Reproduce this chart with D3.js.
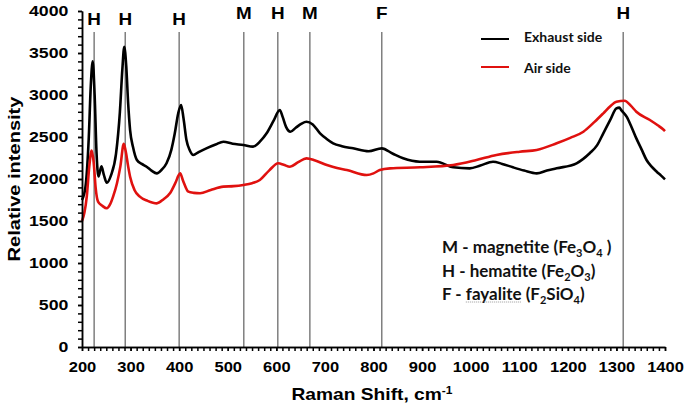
<!DOCTYPE html>
<meta charset="utf-8">
<style>
body { margin: 0; background: #fff; }
.axis path, .axis line { stroke: #000; stroke-width: 1.5px; }
.axis text { font-family: "Liberation Sans", Arial, sans-serif; font-weight: bold; fill: #000; }
.marker { stroke: #7f7f7f; stroke-width: 1.5px; }
.lbl { font-family: "Liberation Sans", Arial, sans-serif; font-weight: bold; fill: #000; }
.note { font-family: Lato, "Open Sans", sans-serif; fill: #111; }
</style>
<svg width="685" height="405"></svg>
<script src="https://d3js.org/d3.v7.min.js"></script>
<script>

// spectra (Raman shift in cm-1, intensity)
var exhaustShift = [200, 207, 214, 218, 222, 226, 230, 234, 240, 245, 251, 260, 270, 278, 283, 287, 291, 295, 299,
  305, 313, 323, 333, 343, 354, 364, 374, 384, 391, 398, 404, 409, 415, 422, 429, 440, 456, 475, 491, 510, 532,
  552, 567, 580, 595, 607, 613, 620, 629, 640, 652, 662, 675, 690, 703, 717, 735, 758, 790, 817, 840, 861, 895,
  930, 964, 998, 1020, 1046, 1065, 1087, 1110, 1136, 1157, 1177, 1218, 1245, 1260, 1273, 1287, 1300, 1306, 1310,
  1321, 1331, 1341, 1352, 1362, 1372, 1383, 1392, 1400];
var exhaustIntensity = [1750, 1900, 2500, 3100, 3400, 3000, 2300, 2030, 2150, 2050, 1956, 2050, 2300, 2800, 3300, 3575, 3350, 2900, 2583,
  2380, 2226, 2180, 2146, 2100, 2067, 2110, 2187, 2350, 2544, 2780, 2881, 2720, 2464, 2340, 2286, 2320, 2365, 2410, 2444, 2420, 2405,
  2385, 2450, 2544, 2700, 2821, 2740, 2620, 2563, 2610, 2660, 2682, 2650, 2544, 2480, 2425, 2390, 2365, 2330, 2365, 2300, 2246, 2206,
  2206, 2139, 2127, 2160, 2206, 2180, 2139, 2100, 2067, 2100, 2127, 2187, 2306, 2400, 2544, 2700, 2841, 2850, 2820,
  2742, 2620, 2484, 2350, 2226, 2150, 2087, 2040, 1996];

var airShift = [200, 205, 210, 215, 220, 224, 228, 233, 242, 251, 258, 264, 272, 279, 286, 290, 295, 299, 308,
  319, 335, 354, 368, 381, 392, 402, 408, 419, 430, 443, 465, 491, 512, 532, 550, 566, 585, 604, 615, 628, 645,
  662, 680, 704, 725, 745, 786, 800, 813, 834, 896, 964, 1012, 1053, 1101, 1136, 1177, 1205, 1232, 1255, 1273,
  1288, 1300, 1317, 1330, 1341, 1369, 1385, 1396, 1400];
var airIntensity = [1500, 1600, 1800, 2150, 2340, 2200, 1900, 1730, 1680, 1651, 1700, 1790, 1950, 2150, 2420, 2330, 2150, 2027, 1870,
  1790, 1740, 1710, 1760, 1830, 1950, 2067, 1980, 1849, 1835, 1830, 1870, 1909, 1915, 1929, 1950, 1988, 2100, 2187, 2170, 2146, 2200,
  2246, 2220, 2167, 2130, 2107, 2048, 2067, 2107, 2127, 2139, 2167, 2226, 2286, 2325, 2345, 2425, 2490, 2563, 2680, 2782,
  2870, 2920, 2932, 2870, 2801, 2702, 2640, 2592, 2570];

// band assignments
var peakShift = [225, 289, 400, 533, 603, 669, 817, 1314];
var peakLabel = ["H", "H", "H", "M", "H", "M", "F", "H"];

var xTicks = d3.range(200, 1401, 100);
var yTicks = d3.range(0, 4001, 500);

var series = [
  {name: "Exhaust side", color: "#000", shift: exhaustShift, value: exhaustIntensity},
  {name: "Air side", color: "#e0110f", shift: airShift, value: airIntensity}
];

var svg = d3.select("svg"),
    margin = {top: 11, right: 20, bottom: 58, left: 82},
    width = 665 - margin.left,
    height = 347 - margin.top;

var x = d3.scaleLinear().domain([200, 1400]).range([0, width]),
    y = d3.scaleLinear().domain([0, 4000]).range([height, 0]);

var g = svg.append("g")
    .attr("transform", "translate(" + margin.left + "," + margin.top + ")");

var stretch = "scale(1.18,1)";

// marker lines for the bands
g.selectAll(".marker")
  .data(peakShift)
  .enter().append("line")
    .attr("class", "marker")
    .attr("x1", function(d) { return x(d); })
    .attr("x2", function(d) { return x(d); })
    .attr("y1", 21)
    .attr("y2", height);

g.selectAll(".peak")
  .data(peakShift)
  .enter().append("text")
    .attr("class", "lbl peak")
    .attr("transform", function(d, i) {
      return "translate(" + x(d) + "," + (i < 3 ? 14 : 8) + ") " + stretch;
    })
    .attr("text-anchor", "middle")
    .style("font-size", "16px")
    .text(function(d, i) { return peakLabel[i]; });

// spectra
var line = d3.line().curve(d3.curveMonotoneX);

series.forEach(function(s) {
  g.append("path")
      .attr("fill", "none")
      .attr("stroke", s.color)
      .attr("stroke-width", 2.6)
      .attr("stroke-linejoin", "round")
      .attr("d", line(s.shift.map(function(v, i) { return [x(v), y(s.value[i])]; })));
});

// axes with minor ticks
g.append("g")
    .attr("class", "axis")
    .attr("transform", "translate(0," + height + ")")
    .call(d3.axisBottom(x).tickValues(d3.range(200, 1400.1, 12.5)).tickSize(4).tickSizeOuter(0).tickFormat(""));

g.append("g")
    .attr("class", "axis")
    .call(d3.axisLeft(y).tickValues(d3.range(0, 4001, 100)).tickSize(4).tickSizeOuter(0).tickFormat(""));

var xAxis = g.append("g")
    .attr("class", "axis")
    .attr("transform", "translate(0," + height + ")")
    .call(d3.axisBottom(x).tickValues(xTicks).tickSize(4).tickPadding(11.5).tickSizeOuter(0).tickFormat(d3.format("d")));
xAxis.selectAll("text").style("font-size", "14px").attr("transform", stretch);

var yAxis = g.append("g")
    .attr("class", "axis")
    .call(d3.axisLeft(y).tickValues(yTicks).tickSize(4).tickPadding(7.6).tickSizeOuter(0).tickFormat(d3.format("d")));
yAxis.selectAll("text").style("font-size", "15px").attr("transform", stretch);

// axis titles
var xt = svg.append("text")
    .attr("class", "lbl")
    .attr("transform", "translate(372,400) scale(1.2,1)")
    .attr("text-anchor", "middle")
    .style("font-size", "16px");
xt.append("tspan").text("Raman Shift, cm");
xt.append("tspan").attr("dy", -6).style("font-size", "10px").text("-1");

svg.append("text")
    .attr("class", "lbl")
    .attr("transform", "translate(20,179) rotate(-90) scale(1.18,1)")
    .attr("text-anchor", "middle")
    .style("font-size", "17px")
    .text("Relative intensity");

// legend
var legend = svg.append("g").attr("transform", "translate(481,0)");
series.forEach(function(s, i) {
  var ly = 39 + i * 28;
  legend.append("line")
      .attr("x1", 0).attr("x2", 28)
      .attr("y1", ly).attr("y2", ly)
      .attr("stroke", s.color)
      .attr("stroke-width", 2);
  legend.append("text")
      .attr("class", "note")
      .attr("x", 43)
      .attr("y", ly + 3 + i * 3)
      .attr("font-weight", "bold")
      .style("font-size", "14px")
      .text(s.name);
});

// mineral key
var key = svg.append("g").attr("transform", "translate(442,0)");
var keyRows = [
  ["M - magnetite (Fe", "3", "O", "4", " )"],
  ["H - hematite (Fe", "2", "O", "3", ")"],
  ["F - fayalite (F", "2", "SiO", "4", ")"]
];
keyRows.forEach(function(r, i) {
  var t = key.append("text")
      .attr("class", "note")
      .attr("y", 253 + i * 23.5)
      .attr("font-weight", "bold")
      .style("font-size", "17px");
  r.forEach(function(part, j) {
    var sub = j % 2 === 1;
    t.append("tspan")
        .attr("dy", j === 0 ? 0 : (sub ? 4 : -4))
        .style("font-size", sub ? "11px" : null)
        .text(part);
  });
  if (i === 2) {
    var n = t.node();
    var a = n.getStartPositionOfChar(4).x,
        b = n.getEndPositionOfChar(11).x;
    key.append("line")
        .attr("x1", a).attr("x2", b)
        .attr("y1", 253 + i * 23.5 + 2).attr("y2", 253 + i * 23.5 + 2)
        .attr("stroke", "#999")
        .attr("stroke-width", 1)
        .attr("stroke-dasharray", "1,1");
  }
});

</script>
